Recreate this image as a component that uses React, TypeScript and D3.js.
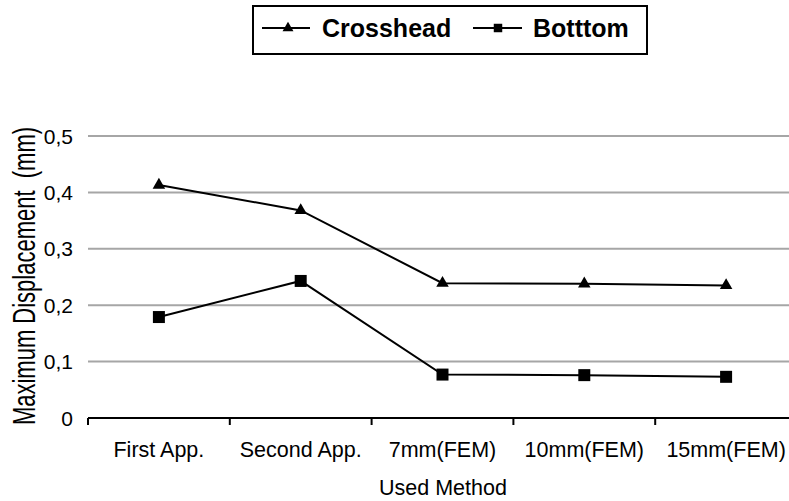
import { line, scaleBand, scaleLinear, symbol, symbolSquare, symbolTriangle, formatLocale } from "d3";

// Chart data
const methods = ["First App.", "Second App.", "7mm(FEM)", "10mm(FEM)", "15mm(FEM)"];
const crosshead = [0.413, 0.368, 0.239, 0.238, 0.235];
const bottom = [0.179, 0.243, 0.077, 0.076, 0.073];
const yTicks = [0, 0.1, 0.2, 0.3, 0.4, 0.5];

const W = 789;
const H = 501;
const FONT = "Arial, 'Liberation Sans', sans-serif";

// decimal comma for tick labels
const fmt = formatLocale({ decimal: ",", thousands: ".", grouping: [3], currency: ["", ""] }).format(".1f");

const App = () => {
  // Scales
  const x = scaleBand<string>().domain(methods).range([88, 797]);
  const y = scaleLinear().domain([0, 0.5]).range([418, 136]);
  const cx = (m: string) => x(m)! + x.bandwidth() / 2;

  const pathOf = line<number>()
    .x((_, i) => cx(methods[i]))
    .y((d) => y(d));

  const tri = symbol().type(symbolTriangle).size(68)()!;
  const sq = symbol().type(symbolSquare).size(144)()!;
  const triSmall = symbol().type(symbolTriangle).size(52)()!;
  const sqSmall = symbol().type(symbolSquare).size(72)()!;

  return (
    <svg width={W} height={H} style={{ position: "absolute", left: 0, top: 0, background: "#fff" }} fontFamily={FONT}>
      {/* gridlines */}
      {yTicks.filter((t) => t > 0).map((t) => (
        <line key={t} x1={88} x2={W} y1={y(t)} y2={y(t)} stroke="#a6a6a6" strokeWidth={2} />
      ))}
      {/* y labels */}
      {yTicks.map((t) => (
        <text key={t} x={73} y={y(t)} dy="0.36em" textAnchor="end" fontSize={21} fill="#000">
          {t === 0 ? "0" : fmt(t)}
        </text>
      ))}
      {/* x axis */}
      <line x1={88} x2={W} y1={y(0)} y2={y(0)} stroke="#000" strokeWidth={2} />
      {methods.map((m) => (
        <line key={m} x1={x(m)!} x2={x(m)!} y1={y(0)} y2={y(0) + 7} stroke="#000" strokeWidth={2} />
      ))}
      {methods.map((m) => (
        <text key={m} x={cx(m)} y={457} textAnchor="middle" fontSize={21.5} fill="#000">
          {m}
        </text>
      ))}
      <text x={443} y={495} textAnchor="middle" fontSize={21.5}>Used Method</text>
      <text
        transform="translate(35,276) rotate(-90) scale(1,1.4)"
        textAnchor="middle"
        fontSize={22}
        style={{ whiteSpace: "pre" }}
      >
        {"Maximum Displacement  (mm)"}
      </text>

      {/* series */}
      <path d={pathOf(crosshead)!} fill="none" stroke="#000" strokeWidth={2} />
      <path d={pathOf(bottom)!} fill="none" stroke="#000" strokeWidth={2} />
      {crosshead.map((v, i) => (
        <path key={"c" + i} d={tri} transform={`translate(${cx(methods[i])},${y(v)})`} fill="#000" />
      ))}
      {bottom.map((v, i) => (
        <path key={"b" + i} d={sq} transform={`translate(${cx(methods[i])},${y(v)})`} fill="#000" />
      ))}

      {/* legend */}
      <rect x={253} y={6} width={394} height={48} fill="#fff" stroke="#000" strokeWidth={2} />
      <line x1={262} x2={310} y1={28} y2={28} stroke="#000" strokeWidth={2} />
      <path d={triSmall} transform="translate(288,28)" fill="#000" />
      <text x={322} y={37} fontSize={25} fontWeight="bold">Crosshead</text>
      <line x1={473} x2={522} y1={28} y2={28} stroke="#000" strokeWidth={2} />
      <path d={sqSmall} transform="translate(498,28)" fill="#000" />
      <text x={533} y={37} fontSize={25} fontWeight="bold">Botttom</text>
    </svg>
  );
};

export default App;
